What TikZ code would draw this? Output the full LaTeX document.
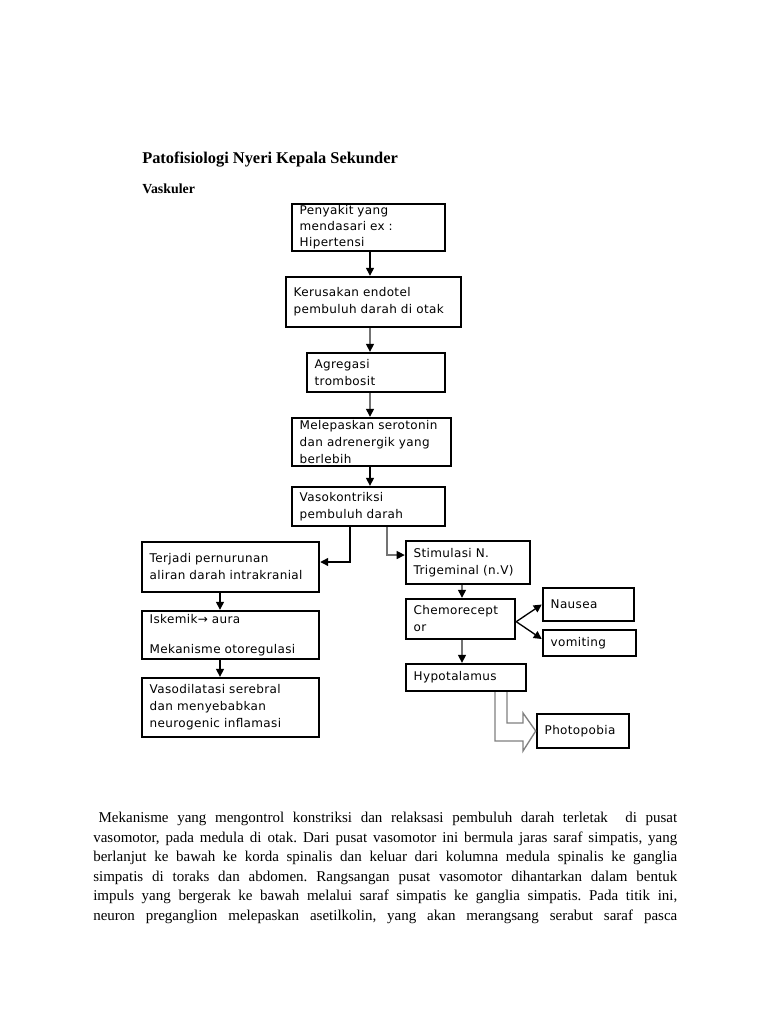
\documentclass[tikz,border=0pt]{standalone}
\usepackage{fontspec}
\setmainfont{Liberation Serif}
\newfontfamily\kotakfont[LetterSpace=3]{DejaVu Sans}
\usetikzlibrary{arrows.meta}

\tikzset{
  kotak/.style={draw, line width=1.4pt, align=left, inner xsep=6pt, inner ysep=0pt,
    font=\kotakfont\fontsize{9}{12.75}\selectfont},
  panah/.style={-{Triangle[length=6pt,width=6pt,black]}, line width=1pt},
  panahabu/.style={panah, draw=black!55},
  baris/.style={anchor=base west, inner sep=0pt, font=\fontsize{11.25}{14}\selectfont}
}

\begin{document}
\begin{tikzpicture}[x=0.75pt, y=-0.75pt]
  \fill[white] (0,0) rectangle (768,1024);
  \useasboundingbox (0,0) rectangle (768,1024);

  % judul
  \node[anchor=base west, inner sep=0pt, font=\bfseries\fontsize{12.3}{14}\selectfont]
    (judul) at (142,163.5) {Patofisiologi Nyeri Kepala Sekunder};
  \node[anchor=base west, inner sep=0pt, font=\bfseries\fontsize{10.4}{12}\selectfont]
    (subjudul) at (142,193) {Vaskuler};

  % kolom tengah
  \node[kotak, text width=103.2pt, minimum height=33.4pt, inner ysep=1pt,
    font=\kotakfont\fontsize{9}{12}\selectfont] (penyakit) at (368.5,227.5)
    {Penyakit yang\\mendasari ex :\\Hipertensi};
  \node[kotak, text width=119.7pt, minimum height=37.9pt] (kerusakan) at (373.5,302)
    {Kerusakan endotel\\pembuluh darah di otak};
  \node[kotak, text width=92pt, minimum height=29.6pt] (agregasi) at (376,372.5)
    {Agregasi\\trombosit};
  \node[kotak, text width=107.7pt, minimum height=36.4pt] (melepaskan) at (371.5,442)
    {Melepaskan serotonin\\dan adrenergik yang\\berlebih};
  \node[kotak, text width=103.2pt, minimum height=29.6pt] (vaso) at (368.5,506.5)
    {Vasokontriksi\\pembuluh darah};

  % kolom kiri
  \node[kotak, text width=121.2pt, minimum height=37.9pt] (terjadi) at (230.5,567)
    {Terjadi pernurunan\\aliran darah intrakranial};
  \node[kotak, text width=121.2pt, minimum height=36.4pt] (iskemik) at (230.5,635)
    {Iskemik→ aura\\[10pt]Mekanisme otoregulasi};
  \node[kotak, text width=121.2pt, minimum height=44.6pt] (vasodilatasi) at (230.5,707.5)
    {Vasodilatasi serebral\\dan menyebabkan\\neurogenic inflamasi};

  % kolom kanan
  \node[kotak, text width=81.5pt, minimum height=32.6pt] (stimulasi) at (468,562.5)
    {Stimulasi N.\\Trigeminal (n.V)};
  \node[kotak, text width=70.2pt, minimum height=30.4pt] (chemo) at (460.5,619)
    {Chemorecept\\or};
  \node[kotak, text width=56.7pt, minimum height=25.1pt] (nausea) at (588.5,604.5)
    {Nausea};
  \node[kotak, text width=58.2pt, minimum height=19.9pt] (vomiting) at (589.5,643)
    {vomiting};
  \node[kotak, text width=78.5pt, minimum height=20.6pt] (hypo) at (466,677.5)
    {Hypotalamus};
  \node[kotak, text width=57.5pt, minimum height=25.1pt] (photo) at (583,731)
    {Photopobia};

  % panah
  \coordinate (sumbu) at (370,0);
  \coordinate (sumbukiri) at (220,0);
  \coordinate (sumbukanan) at (462,0);
  \coordinate (cabangkiri) at (350,0);
  \coordinate (cabangkanan) at (387,0);
  \draw[panah] (penyakit.south -| sumbu) -- (kerusakan.north -| sumbu);
  \draw[panahabu] (kerusakan.south -| sumbu) -- (agregasi.north -| sumbu);
  \draw[panahabu] (agregasi.south -| sumbu) -- (melepaskan.north -| sumbu);
  \draw[panah] (melepaskan.south -| sumbu) -- (vaso.north -| sumbu);
  \draw[panah] (vaso.south -| cabangkiri) |- ([yshift=3.75pt]terjadi.east);
  \draw[panahabu] (vaso.south -| cabangkanan) |- ([yshift=5.6pt]stimulasi.west);
  \draw[panah] (terjadi.south -| sumbukiri) -- (iskemik.north -| sumbukiri);
  \draw[panah] (iskemik.south -| sumbukiri) -- (vasodilatasi.north -| sumbukiri);
  \draw[panahabu] (stimulasi.south -| sumbukanan) -- (chemo.north -| sumbukanan);
  \draw[panahabu] (chemo.south -| sumbukanan) -- (hypo.north -| sumbukanan);
  \draw[panah] ([yshift=-2pt]chemo.east) -- (nausea.west);
  \draw[panah] ([yshift=-2pt]chemo.east) -- ([yshift=3pt]vomiting.west);

  % panah berongga ke photopobia
  \coordinate (luar) at (495,0);
  \coordinate (dalam) at (507,0);
  \draw[black!50, line width=1pt, line join=miter]
    (hypo.south -| luar) -- (495,741) -- (523,741) -- (523,751) -- (photo.west)
    -- (523,713) -- (523,723) -- (507,723) -- (hypo.south -| dalam);

  % paragraf
  \frenchspacing
  \foreach \isi [count=\i] in {
    {\hspace*{4pt}Mekanisme yang mengontrol konstriksi dan relaksasi pembuluh darah terletak \ di pusat},
    {vasomotor, pada medula di otak. Dari pusat vasomotor ini bermula jaras saraf simpatis, yang},
    {berlanjut ke bawah ke korda spinalis dan keluar dari kolumna medula spinalis ke ganglia},
    {simpatis di toraks dan abdomen. Rangsangan pusat vasomotor dihantarkan dalam bentuk},
    {impuls yang bergerak ke bawah melalui saraf simpatis ke ganglia simpatis. Pada titik ini,},
    {neuron preganglion melepaskan asetilkolin, yang akan merangsang serabut saraf pasca}} {
    \node[baris] (baris\i) at (93,{822.5+19.5*(\i-1)}) {\makebox[438pt][s]{\isi}};
  }
\end{tikzpicture}
\end{document}
